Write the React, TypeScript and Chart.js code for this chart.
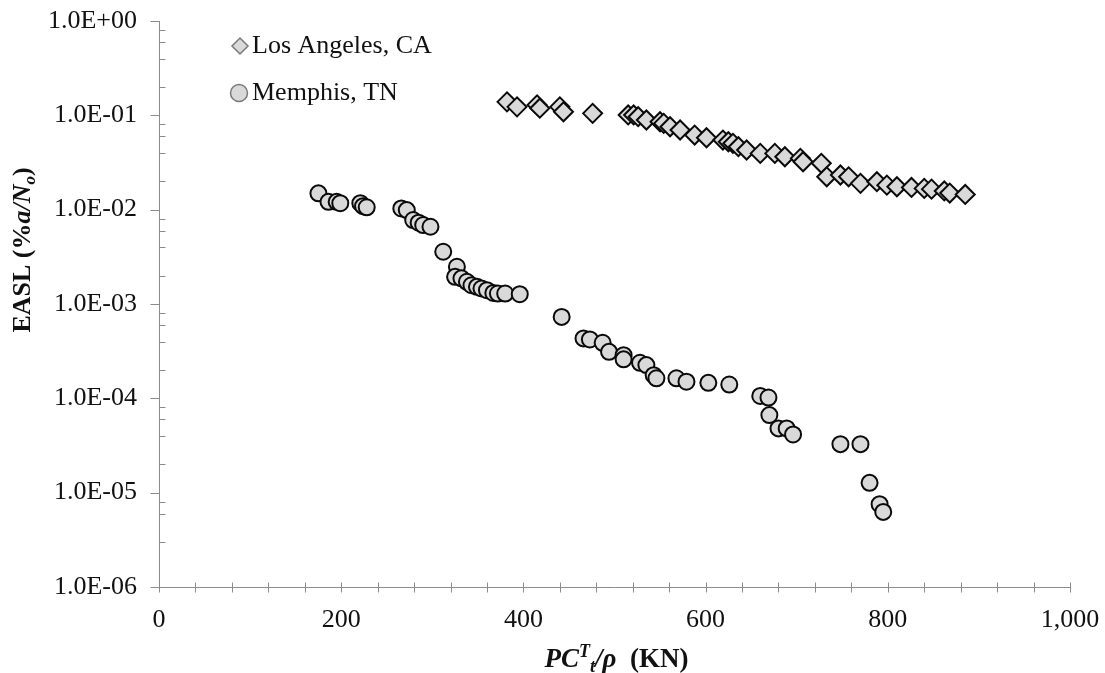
import React, { useEffect, useRef } from "react";
import { Chart, registerables } from "chart.js";

Chart.register(...registerables);

// Los Angeles, CA — normalized load vs. exceedance rate
const laLoad = [
  382, 393, 415, 418, 440, 444, 476, 515, 521, 526, 535, 550, 554, 561, 572, 588,
  601, 619, 625, 630, 636, 645, 660, 676, 687, 704, 707, 727, 733, 748, 757, 770,
  788, 799, 810, 826, 840, 848, 862, 868, 885,
];
const laEasl = [
  0.139, 0.123, 0.129, 0.119, 0.123, 0.109, 0.105, 0.101, 0.101, 0.0967, 0.0892,
  0.0855, 0.0822, 0.0757, 0.0699, 0.0618, 0.0579, 0.0547, 0.0525, 0.0505, 0.0465,
  0.0429, 0.0395, 0.0395, 0.0364, 0.035, 0.0322, 0.031, 0.0223, 0.0233, 0.0223,
  0.019, 0.0198, 0.0182, 0.0175, 0.0172, 0.0168, 0.0165, 0.0158, 0.015, 0.0145,
];

// Memphis, TN
const mpLoad = [
  175, 186, 195, 199, 221, 224, 228, 266, 272, 279, 285, 290, 298, 312, 327, 325,
  332, 338, 343, 349, 354, 360, 367, 372, 380, 396, 442, 466, 473, 487, 494, 510,
  510, 528, 535, 543, 546, 568, 579, 603, 626, 660, 669, 670, 680, 689, 696, 748,
  770, 780, 791, 795,
];
const mpEasl = [
  0.0149, 0.0121, 0.0121, 0.0117, 0.0117, 0.0109, 0.0106, 0.0103, 0.0099, 0.00776,
  0.00727, 0.00687, 0.00659, 0.00358, 0.00248, 0.00194, 0.00187, 0.00172, 0.00158,
  0.00152, 0.00146, 0.0014, 0.00131, 0.00129, 0.00129, 0.00127, 0.00073, 0.000432,
  0.000421, 0.000388, 0.000311, 0.000287, 0.000259, 0.000238, 0.000225, 0.000176,
  0.000163, 0.000163, 0.00015, 0.000146, 0.00014, 0.000106, 0.000102, 0.0000664,
  0.000048, 0.000048, 0.0000414, 0.0000327, 0.0000327, 0.0000127, 0.00000755,
  0.00000625,
];

const seriesNames = ["Los Angeles, CA", "Memphis, TN"];

const xRange = [0, 1000];
const xMinorStep = 40;
const xLabelStep = 200;
const yRange = [1e-6, 1];

const FONT = '"Liberation Serif", "Times New Roman", serif';
const AXIS_COLOR = "#8c8c8c";
const TEXT_COLOR = "#111111";
const MARK_FILL = "#d9d9d9";
const MARK_EDGE = "#0a0a0a";

type Seg = { text: string; size: number; bold?: boolean; italic?: boolean; dy?: number };

function segFont(s: Seg) {
  return `${s.italic ? "italic " : ""}${s.bold ? "bold " : ""}${s.size}px ${FONT}`;
}

function drawSegs(ctx: CanvasRenderingContext2D, segs: Seg[], cx: number, baseline: number) {
  let total = 0;
  for (const s of segs) {
    ctx.font = segFont(s);
    total += ctx.measureText(s.text).width;
  }
  let x = cx - total / 2;
  ctx.textAlign = "left";
  ctx.textBaseline = "alphabetic";
  for (const s of segs) {
    ctx.font = segFont(s);
    ctx.fillText(s.text, x, baseline + (s.dy || 0));
    x += ctx.measureText(s.text).width;
  }
}

function fmtExp(v: number) {
  const e = Math.round(Math.log10(v));
  const m = v / Math.pow(10, e);
  const sign = e < 0 ? "-" : "+";
  return `${m.toFixed(1)}E${sign}${String(Math.abs(e)).padStart(2, "0")}`;
}

function isDecade(v: number) {
  const l = Math.log10(v);
  return Math.abs(l - Math.round(l)) < 1e-9;
}

const yTitle: Seg[] = [
  { text: "EASL (%", size: 26, bold: true },
  { text: "a/N", size: 26, bold: true, italic: true },
  { text: "o", size: 17, bold: true, italic: true, dy: 5 },
  { text: ")", size: 26, bold: true },
];

const xTitle: Seg[] = [
  { text: "PC", size: 27, bold: true, italic: true },
  { text: "T", size: 18, bold: true, italic: true, dy: -10 },
  { text: "t", size: 18, bold: true, italic: true, dy: 5 },
  { text: "/\u03c1", size: 27, bold: true, italic: true },
  { text: "  (KN)", size: 27, bold: true },
];

const axesPlugin = {
  id: "sheetAxes",
  beforeDatasetsDraw(chart: any) {
    const { ctx, chartArea } = chart;
    const xs = chart.scales.x;
    const ys = chart.scales.y;
    const { left, right, top, bottom } = chartArea;
    ctx.save();
    ctx.strokeStyle = AXIS_COLOR;
    ctx.lineWidth = 1;

    // axis lines
    ctx.beginPath();
    ctx.moveTo(Math.round(left) + 0.5, top);
    ctx.lineTo(Math.round(left) + 0.5, bottom);
    ctx.moveTo(left, Math.round(bottom) + 0.5);
    ctx.lineTo(right, Math.round(bottom) + 0.5);
    ctx.stroke();

    // y ticks: decades outside, intermediate ones inside
    const ax = Math.round(left) + 0.5;
    ctx.beginPath();
    for (const t of ys.ticks) {
      const py = Math.round(ys.getPixelForValue(t.value)) + 0.5;
      if (isDecade(t.value)) {
        ctx.moveTo(ax - 9, py);
        ctx.lineTo(ax, py);
      } else {
        ctx.moveTo(ax, py);
        ctx.lineTo(ax + 6, py);
      }
    }
    ctx.stroke();

    // x ticks cross the axis
    const by = Math.round(bottom) + 0.5;
    ctx.beginPath();
    for (const t of xs.ticks) {
      const px = Math.round(xs.getPixelForValue(t.value)) + 0.5;
      ctx.moveTo(px, by - 5);
      ctx.lineTo(px, by + 5);
    }
    ctx.stroke();

    // tick labels
    ctx.fillStyle = TEXT_COLOR;
    ctx.font = `26px ${FONT}`;
    ctx.textAlign = "right";
    ctx.textBaseline = "middle";
    for (const t of ys.ticks) {
      if (!isDecade(t.value)) continue;
      ctx.fillText(fmtExp(t.value), left - 22, ys.getPixelForValue(t.value));
    }
    ctx.textAlign = "center";
    ctx.textBaseline = "alphabetic";
    for (const t of xs.ticks) {
      if (t.value % xLabelStep !== 0) continue;
      ctx.fillText(t.value.toLocaleString("en-US"), xs.getPixelForValue(t.value), bottom + 40);
    }

    // axis titles
    drawSegs(ctx, xTitle, (left + right) / 2 + 2, 667);
    ctx.save();
    ctx.translate(30, 250);
    ctx.rotate(-Math.PI / 2);
    drawSegs(ctx, yTitle, 0, 0);
    ctx.restore();

    ctx.restore();
  },
  afterDraw(chart: any) {
    const { ctx } = chart;
    ctx.save();
    const rows = [
      { y: 46, style: "rectRot", r: 8 },
      { y: 93, style: "circle", r: 8.5 },
    ];
    chart.data.datasets.forEach((ds: any, i: number) => {
      const row = rows[i];
      ctx.fillStyle = MARK_FILL;
      ctx.strokeStyle = "#7a7a7a";
      ctx.lineWidth = 1.5;
      ctx.beginPath();
      if (row.style === "rectRot") {
        ctx.moveTo(240, row.y - row.r);
        ctx.lineTo(240 + row.r, row.y);
        ctx.lineTo(240, row.y + row.r);
        ctx.lineTo(240 - row.r, row.y);
        ctx.closePath();
      } else {
        ctx.arc(239, row.y, row.r, 0, Math.PI * 2);
      }
      ctx.fill();
      ctx.stroke();
      ctx.fillStyle = TEXT_COLOR;
      ctx.font = `26px ${FONT}`;
      ctx.textAlign = "left";
      ctx.textBaseline = "middle";
      ctx.fillText(ds.label, 252, row.y);
    });
    ctx.restore();
  },
};

export default function App() {
  const canvasRef = useRef<HTMLCanvasElement | null>(null);

  useEffect(() => {
    if (!canvasRef.current) return;
    const chart = new Chart(canvasRef.current, {
      type: "scatter",
      data: {
        datasets: [
          {
            label: seriesNames[0],
            data: laLoad.map((x, i) => ({ x, y: laEasl[i] })),
            pointStyle: "rectRot",
            pointRadius: 9.5,
            pointBackgroundColor: MARK_FILL,
            pointBorderColor: MARK_EDGE,
            pointBorderWidth: 2,
            showLine: false,
          },
          {
            label: seriesNames[1],
            data: mpLoad.map((x, i) => ({ x, y: mpEasl[i] })),
            pointStyle: "circle",
            pointRadius: 8,
            pointBackgroundColor: MARK_FILL,
            pointBorderColor: MARK_EDGE,
            pointBorderWidth: 2,
            showLine: false,
          },
        ],
      },
      options: {
        animation: false,
        responsive: true,
        maintainAspectRatio: false,
        layout: { padding: { left: 159, right: 35, top: 21, bottom: 86 } },
        plugins: { legend: { display: false }, tooltip: { enabled: false } },
        scales: {
          x: {
            type: "linear",
            display: false,
            min: xRange[0],
            max: xRange[1],
            ticks: { stepSize: xMinorStep },
          },
          y: {
            type: "logarithmic",
            display: false,
            min: yRange[0],
            max: yRange[1],
          },
        },
      },
      plugins: [axesPlugin],
    });
    return () => chart.destroy();
  }, []);

  return (
    <div style={{ position: "fixed", left: 0, top: 0, width: 1105, height: 673, background: "#fff" }}>
      <canvas ref={canvasRef} />
    </div>
  );
}
